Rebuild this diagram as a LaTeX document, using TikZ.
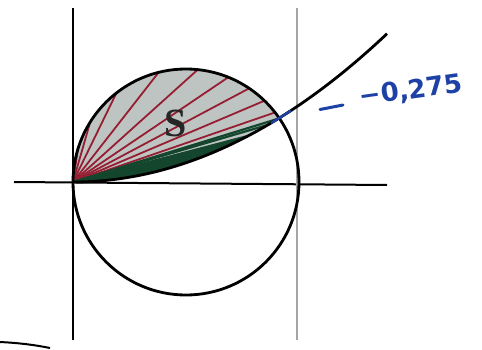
\documentclass[tikz,border=0pt]{standalone}
\usepackage{fontspec}
\usetikzlibrary{calc}
\newfontfamily\handfont{DejaVu Sans}
\newfontfamily\labelfont{Liberation Serif}
\definecolor{fillS}{RGB}{190,196,194}
\definecolor{redS}{RGB}{150,30,50}
\definecolor{greenS}{RGB}{20,70,45}
\definecolor{inkblue}{RGB}{30,65,165}
\definecolor{guide}{RGB}{165,165,165}
\tikzset{
  axis/.style={line width=2pt, black},
  guideline/.style={line width=1.3pt, guide},
  curveline/.style={line width=2.8pt, black},
  fanred/.style={line width=1.8pt, redS},
  fangreen/.style={line width=2.2pt, greenS},
}
\begin{document}
\begin{tikzpicture}[x=1pt,y=1pt]
\useasboundingbox (0,0) rectangle (482,349);
% named points
\coordinate (O) at (73,167);
\coordinate (C) at (186,167);
\coordinate (P) at (279.2,230.9);
% shaded region S
\fill[fillS] (O) arc[start angle=180, end angle=34.4, radius=113]
  -- plot[domain=206.2:0, samples=40] ({73+\x},{167+(\x/25.788)*(\x/25.788)}) -- cycle;
% fan lines
\begin{scope}
\clip (O) arc[start angle=180, end angle=34.4, radius=113]
  -- plot[domain=206.2:0, samples=40] ({73+\x},{167+(\x/25.788)*(\x/25.788)}) -- cycle;
\foreach \a in {38,46,56,68,84,104,128,148,163,174}
  \draw[fanred] (O) -- ($(C)+(\a:113)$);
\fill[redS] (O) -- ($(C)+(178:113)$) arc[start angle=178, end angle=168, radius=113] -- cycle;
\fill[greenS] (O) -- plot[domain=0:175, samples=30] ({73+\x},{167+(\x/25.788)*(\x/25.788)}) -- cycle;
\foreach \t in {120,150,175,195,205}
  \draw[fangreen] (O) -- ({73+\t},{167+(\t/25.788)*(\t/25.788)});
\end{scope}
% axes and guide
\draw[axis] (14,167) -- (387,164);
\draw[axis] (73,341) -- (73,9);
\draw[guideline] (297,341) -- (297,9);
% circle
\draw[curveline] (C) circle[radius=113];
% parabola
\draw[curveline] plot[domain=0:314, samples=60] ({73+\x},{167+(\x/25.788)*(\x/25.788)});
\draw[line width=2.4pt, inkblue] plot[domain=198:218, samples=10] ({73+\x},{167+(\x/25.788)*(\x/25.788)});
% labels
\node[font=\labelfont\bfseries\fontsize{40}{40}\selectfont, text=black!85] (S) at (176,226) {\textbf{S}};
\coordinate (d1) at (320,239.5);
\coordinate (d2) at (343,244);
\draw[line width=3pt, inkblue, line cap=round] (d1) -- (d2);
\node[inkblue, font=\handfont\bfseries\fontsize{26}{26}\selectfont, rotate=8, inner sep=0pt] (val) at (411,258) {−0,275};
% bottom-left stroke
\draw[line width=2pt] (0,7) .. controls (20,6) and (35,4) .. (50,1);
\end{tikzpicture}
\end{document}
